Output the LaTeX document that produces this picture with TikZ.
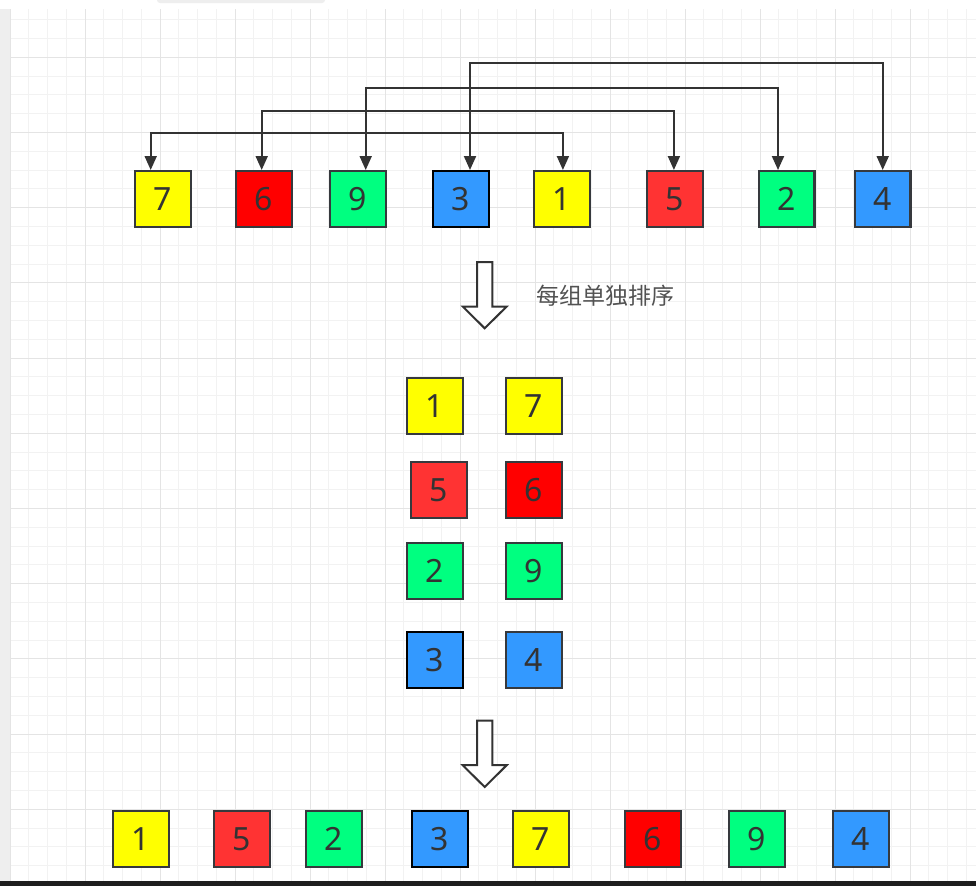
\documentclass[tikz,border=0pt]{standalone}
\usepackage{fontspec}
\setmainfont{Noto Sans}
\newfontfamily\cjk{Noto Sans CJK SC}
\usetikzlibrary{arrows.meta}

\definecolor{edge}{HTML}{36393D}
\definecolor{ink}{HTML}{333333}
\definecolor{cyellow}{HTML}{FFFF00}
\definecolor{cred}{HTML}{FF0000}
\definecolor{clightred}{HTML}{FF3333}
\definecolor{cgreen}{HTML}{00FF80}
\definecolor{cblue}{HTML}{3399FF}
\definecolor{gridminor}{HTML}{F2F2F2}
\definecolor{gridmajor}{HTML}{E4E4E4}
\definecolor{panel}{HTML}{EEEEEE}
\definecolor{statusbar}{HTML}{1E1E1E}

\tikzset{
  cell/.style={draw=edge, line width=2.2pt, minimum width=55.8pt, minimum height=55.8pt,
    inner sep=0pt, text=ink, font=\fontsize{32}{36}\selectfont},
  yel/.style={cell, fill=cyellow},
  red/.style={cell, fill=cred},
  lred/.style={cell, fill=clightred},
  grn/.style={cell, fill=cgreen},
  blu/.style={cell, fill=cblue},
  swap/.style={draw=ink, line width=2pt,
    {Triangle[width=12pt,length=14pt]}-{Triangle[width=12pt,length=14pt]}},
  bigarrow/.pic={
    \draw[draw=ink, line width=2pt, fill=white, line join=miter]
      (-7.7,0) -- (7.7,0) -- (7.7,44.5) -- (22,44.5) -- (0,66.3)
      -- (-22,44.5) -- (-7.7,44.5) -- cycle;
  }
}

\begin{document}
\begin{tikzpicture}[x=1pt,y=-1pt]
\useasboundingbox (0,0) rectangle (976,886);
\fill[white] (0,0) rectangle (976,886);

% canvas grid
\begin{scope}
\clip (10,9) rectangle (976,880.5);
\foreach \i in {0,...,51} \draw[gridminor, line width=1pt] ({10+18.75*\i},9) -- ++(0,872);
\foreach \j in {0,...,46} \draw[gridminor, line width=1pt] (10,{0.9+18.8*\j}) -- ++(966,0);
\foreach \i in {0,...,12} \draw[gridmajor, line width=1pt] ({10+75*\i},9) -- ++(0,872);
\foreach \j in {0,...,10} \draw[gridmajor, line width=1pt] (10,{57.3+75.2*\j}) -- ++(966,0);
\end{scope}
\fill[panel] (0,9) rectangle (10,880.5);
\fill[panel, rounded corners=3pt] (157,-4) rectangle (325,3);
\fill[statusbar] (0,880.5) rectangle (976,886);

% input row
\node[yel] (t7) at (163,199) {7};
\node[red] (t6) at (264,199) {6};
\node[grn] (t9) at (358,199) {9};
\node[blu, draw=black] (t3) at (461,199) {3};
\node[yel] (t1) at (562,199) {1};
\node[lred] (t5) at (675,199) {5};
\node[grn] (t2) at (786.5,199) {2};
\node[blu] (t4) at (882.5,199) {4};

% groups with gap 4
\draw[swap] ([xshift=-12.3pt]t7.north) -- ++(0,-37.3) -| ([xshift=0.9pt]t1.north);
\draw[swap] ([xshift=-2.3pt]t6.north) -- ++(0,-59) -| ([xshift=-1.1pt]t5.north);
\draw[swap] ([xshift=7.7pt]t9.north) -- ++(0,-82.5) -| ([xshift=-8.5pt]t2.north);
\draw[swap] ([xshift=9pt]t3.north) -- ++(0,-106.7) -| ([xshift=0.2pt]t4.north);

\pic at (484.7,262) {bigarrow};
\node[font=\cjk\fontsize{23}{27}\selectfont, text=ink!85, anchor=west, inner sep=0pt]
  (caption) at (536.5,296) {每组单独排序};

% sorted pairs
\node[yel] (m1) at (435,406) {1};
\node[yel] (m7) at (534,406) {7};
\node[lred] (m5) at (438.7,490) {5};
\node[red] (m6) at (534,490) {6};
\node[grn] (m2) at (435,571) {2};
\node[grn] (m9) at (534,571) {9};
\node[blu, draw=black] (m3) at (435,660) {3};
\node[blu] (m4) at (534,660) {4};

\pic at (484.7,720.7) {bigarrow};

% result row
\node[yel] (b1) at (141,839) {1};
\node[lred] (b5) at (242,839) {5};
\node[grn] (b2) at (334,839) {2};
\node[blu, draw=black] (b3) at (440,839) {3};
\node[yel] (b7) at (541,839) {7};
\node[red] (b6) at (653,839) {6};
\node[grn] (b9) at (757,839) {9};
\node[blu] (b4) at (861,839) {4};
\end{tikzpicture}
\end{document}
